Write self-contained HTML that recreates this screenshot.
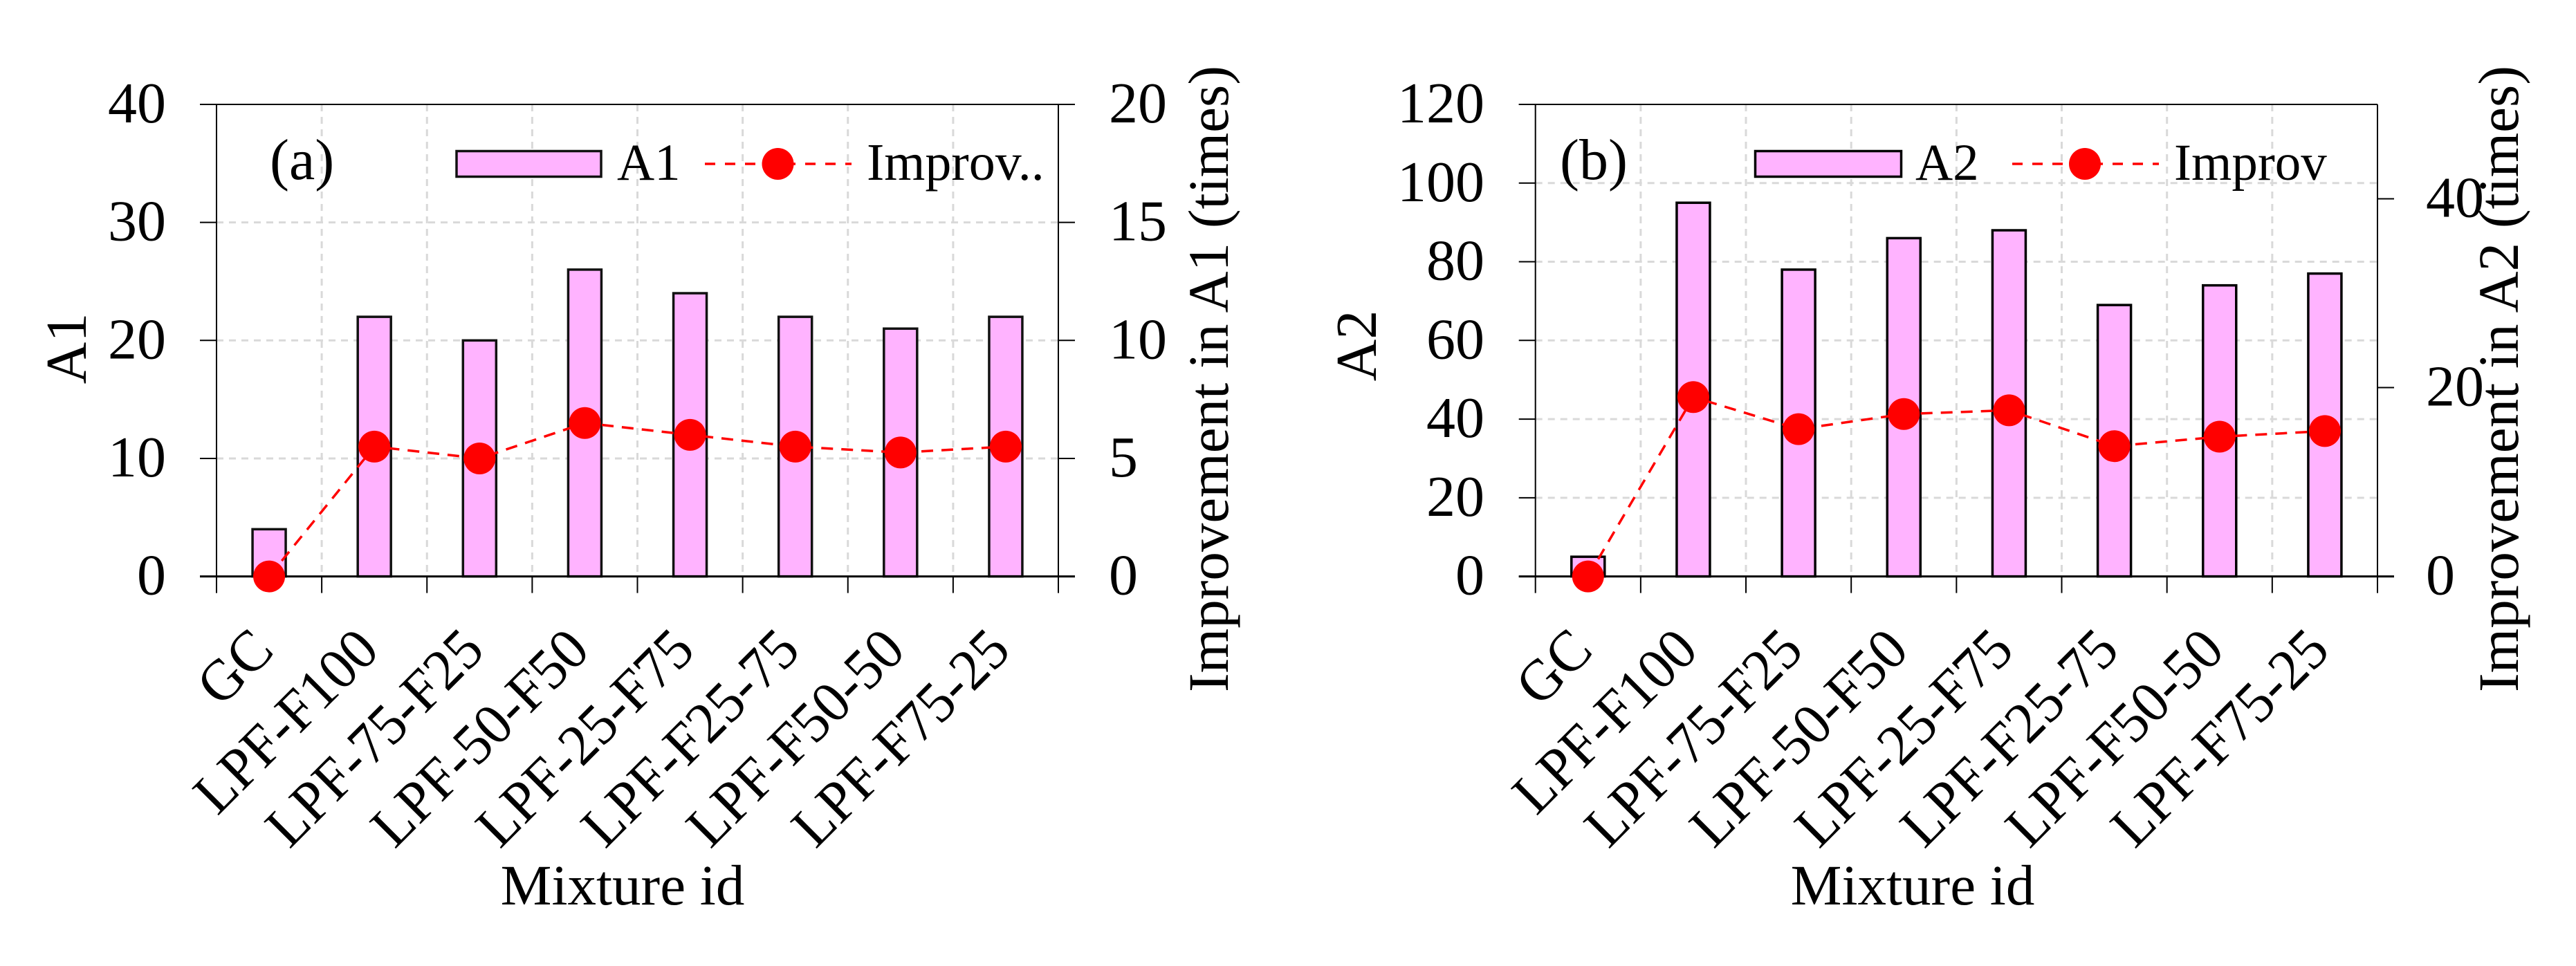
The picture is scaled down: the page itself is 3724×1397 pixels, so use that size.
<!DOCTYPE html>
<html lang="en">
<head>
<meta charset="utf-8">
<title>A1 and A2 by mixture id</title>
<style>
html,body{margin:0;padding:0;background:#fff;width:3724px;height:1397px;overflow:hidden}
svg{display:block}
text{font-family:"Liberation Serif",serif;fill:#000}
</style>
</head>
<body>
<svg id="chart" width="3724" height="1397" viewBox="0 0 3724 1397" xmlns="http://www.w3.org/2000/svg">
  <rect x="0" y="0" width="3724" height="1397" fill="#ffffff"/>
  <g id="panel-a"></g>
  <g id="panel-b"></g>

  <g>
    <text x="390" y="259" font-size="84">(a)</text>
    <rect x="660" y="218.5" width="209" height="37" fill="#ffb3ff" stroke="#111" stroke-width="3.5"/>
    <text x="892" y="260" font-size="75">A1</text>
    <line x1="1019" y1="237" x2="1231" y2="237" stroke="#ff0000" stroke-width="3.5" stroke-dasharray="15 14"/>
    <circle cx="1124.5" cy="237" r="23" fill="#ff0000"/>
    <text x="1253" y="260" font-size="76">Improv..</text>
    <text transform="translate(124,504) rotate(-90)" text-anchor="middle" font-size="84">A1</text>
    <text transform="translate(1775,548) rotate(-90)" text-anchor="middle" font-size="83">Improvement in A1 (times)</text>
    <text x="900" y="1308" text-anchor="middle" font-size="83">Mixture id</text>
  </g>

  <g>
    <text x="2255" y="259" font-size="84">(b)</text>
    <rect x="2537.5" y="218.5" width="211" height="37" fill="#ffb3ff" stroke="#000" stroke-width="3.5"/>
    <text x="2769" y="260" font-size="75">A2</text>
    <line x1="2909" y1="237" x2="3121" y2="237" stroke="#ff0000" stroke-width="3.5" stroke-dasharray="15 14"/>
    <circle cx="3014" cy="237" r="23" fill="#ff0000"/>
    <text x="3143" y="260" font-size="75">Improv</text>
    <text transform="translate(1989,500) rotate(-90)" text-anchor="middle" font-size="84">A2</text>
    <text transform="translate(3640,548) rotate(-90)" text-anchor="middle" font-size="83">Improvement in A2 (times)</text>
    <text x="2765" y="1308" text-anchor="middle" font-size="83">Mixture id</text>
  </g>
</svg>

<script>
const categories = ["GC", "LPF-F100", "LPF-75-F25", "LPF-50-F50", "LPF-25-F75", "LPF-F25-75", "LPF-F50-50", "LPF-F75-25"];

const a1Values = [4, 22, 20, 26, 24, 22, 21, 22];
const a1Improvement = [0, 5.5, 5, 6.5, 6, 5.5, 5.25, 5.5];
const a1LeftTicks = [0, 10, 20, 30, 40];
const a1RightTicks = [0, 5, 10, 15, 20];

const a2Values = [5, 95, 78, 86, 88, 69, 74, 77];
const a2Improvement = [0, 19, 15.6, 17.2, 17.6, 13.8, 14.8, 15.4];
const a2LeftTicks = [0, 20, 40, 60, 80, 100, 120];
const a2RightTicks = [0, 20, 40];

const NS = "http://www.w3.org/2000/svg";

function mk(parent, tag, attrs, content) {
  const el = document.createElementNS(NS, tag);
  for (const k in attrs) el.setAttribute(k, attrs[k]);
  if (content !== undefined) el.textContent = content;
  parent.appendChild(el);
  return el;
}

function drawPanel(root, cfg) {
  const yTop = 151, yBase = 833.6, tickLen = 24;
  const n = cfg.categories.length;
  const step = (cfg.xRight - cfg.xLeft) / n;
  const xEdge = i => cfg.xLeft + i * step;
  const xMid = i => cfg.xLeft + (i + 0.5) * step;
  const yLeft = v => yBase - (v / cfg.leftMax) * (yBase - yTop);
  const yRight = v => yBase - (v / cfg.rightMax) * (yBase - yTop);

  // gridlines
  const grid = mk(root, "g", {stroke: "#d9d9d9", "stroke-width": 3, "stroke-dasharray": "10 8", fill: "none"});
  
  
  for (let i = 1; i < n; i++) {
    const gl = mk(grid, "line", {x1: xEdge(i), x2: xEdge(i), y1: yTop, y2: yBase});
    
    
  }
  cfg.leftTicks.forEach(t => {
    if (t === 0 || yLeft(t) <= yTop) return;
    const gl = mk(grid, "line", {x1: cfg.xLeft, x2: cfg.xRight, y1: yLeft(t), y2: yLeft(t)});
    
    
  });

  // bars
  const barW = 48;
  cfg.values.forEach((v, i) => {
    const bar = mk(root, "rect", {
      x: xMid(i) - barW / 2, y: yLeft(v), width: barW, height: yBase - yLeft(v),
      fill: "#ffb3ff", stroke: cfg.barStroke, "stroke-width": 3.5
    });
    
    
  });

  // frame and ticks
  const axes = mk(root, "g", {stroke: "#000", "stroke-width": 2, fill: "none"});
  
  
  mk(axes, "line", {x1: cfg.xLeft, x2: cfg.xLeft, y1: yTop, y2: yBase + tickLen});
  mk(axes, "line", {x1: cfg.xRight, x2: cfg.xRight, y1: yTop, y2: yBase + tickLen});
  mk(axes, "line", {x1: cfg.xLeft - tickLen, x2: cfg.xRight + tickLen, y1: yBase, y2: yBase, "stroke-width": 3});
  mk(axes, "line", {x1: cfg.xLeft - tickLen, x2: cfg.xRight + cfg.topOverhang, y1: yTop, y2: yTop});
  for (let i = 1; i < n; i++) {
    mk(axes, "line", {x1: xEdge(i), x2: xEdge(i), y1: yBase, y2: yBase + tickLen});
  }

  // left tick marks and labels
  cfg.leftTicks.forEach(t => {
    mk(axes, "line", {x1: cfg.xLeft - tickLen, x2: cfg.xLeft, y1: yLeft(t), y2: yLeft(t)});
    const lab = mk(root, "text", {x: cfg.leftLabelX, y: yLeft(t) + 26, "text-anchor": "end", "font-size": 84}, String(t));
    
    
  });

  // right tick marks and labels
  cfg.rightTicks.forEach(t => {
    mk(axes, "line", {x1: cfg.xRight, x2: cfg.xRight + tickLen, y1: yRight(t), y2: yRight(t)});
    const lab = mk(root, "text", {x: cfg.rightLabelX, y: yRight(t) + 26, "font-size": 84}, String(t));
    
    
  });

  // category labels
  cfg.categories.forEach((c, i) => {
    const lx = xMid(i) + 10, ly = 944;
    const lab = mk(root, "text", {
      transform: "translate(" + lx + "," + ly + ") rotate(-45) scale(0.97,1)",
      "text-anchor": "end", "font-size": 84
    }, c);
    
    
  });

  // improvement line
  const pts = cfg.improvement.map((v, i) => xMid(i) + "," + yRight(v)).join(" ");
  const line = mk(root, "polyline", {
    points: pts, fill: "none", stroke: "#ff0000", "stroke-width": 3.5, "stroke-dasharray": "17 12"
  });
  
  

  cfg.improvement.forEach((v, i) => {
    const p = mk(root, "circle", {cx: xMid(i), cy: yRight(v), r: 23, fill: "#ff0000"});
    
    
  });
}

drawPanel(document.getElementById("panel-a"), {
  categories: categories, values: a1Values, improvement: a1Improvement,
  leftTicks: a1LeftTicks, rightTicks: a1RightTicks,
  leftMax: 40, rightMax: 20,
  xLeft: 313, xRight: 1530, topOverhang: 24,
  leftLabelX: 240, rightLabelX: 1603, barStroke: "#111"
});

drawPanel(document.getElementById("panel-b"), {
  categories: categories, values: a2Values, improvement: a2Improvement,
  leftTicks: a2LeftTicks, rightTicks: a2RightTicks,
  leftMax: 120, rightMax: 50,
  xLeft: 2219.7, xRight: 3437, topOverhang: 0,
  leftLabelX: 2146, rightLabelX: 3507, barStroke: "#000"
});
</script>
</body>
</html>
